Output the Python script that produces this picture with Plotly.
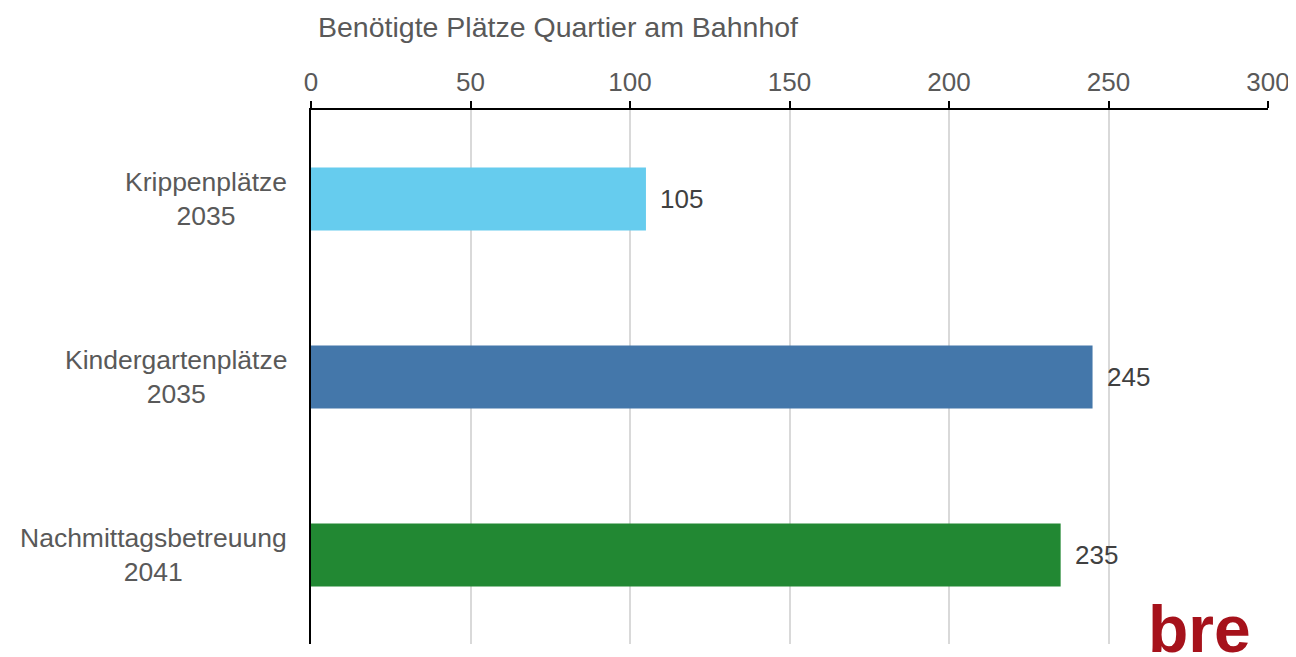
import plotly.graph_objects as go

categories = ["Krippenplätze<br>2035", "Kindergartenplätze<br>2035", "Nachmittagsbetreuung<br>2041"]
values = [105, 245, 235]
colors = ["#66CCEE", "#4477AA", "#228833"]
title_text = "Benötigte Plätze Quartier am Bahnhof"
x_ticks = [0, 50, 100, 150, 200, 250, 300]

FONT = "Liberation Sans, Arial, sans-serif"
GREY = "#595959"

fig = go.Figure()
fig.add_trace(go.Bar(
    y=categories, x=values, orientation="h",
    marker=dict(color=colors, line=dict(width=0)),
    width=0.355, showlegend=False, hoverinfo="x+y",
))

annotations = []
for c in categories:
    annotations.append(dict(
        x=0, xref="paper", y=c, yref="y", text=c, showarrow=False,
        xanchor="right", yanchor="middle", align="center", xshift=-22,
        font=dict(family=FONT, size=26.5, color=GREY),
    ))
for c, v in zip(categories, values):
    annotations.append(dict(
        x=v, xref="x", y=c, yref="y", text=str(v), showarrow=False,
        xanchor="left", yanchor="middle", xshift=12,
        font=dict(family=FONT, size=26, color="#404040"),
    ))
annotations.append(dict(
    x=0.928, xref="paper", y=0.028, yref="paper", text="<b>bre</b>",
    showarrow=False, xanchor="center", yanchor="middle",
    font=dict(family=FONT, size=66, color="#A6121B"),
))

fig.update_layout(
    width=1288, height=649,
    margin=dict(l=303, r=28, t=102, b=13),
    paper_bgcolor="white", plot_bgcolor="white",
    font=dict(family=FONT, color=GREY),
    title=dict(
        text=title_text, x=310/1288, xref="container", xanchor="left",
        y=1 - 19/649, yref="container", yanchor="middle",
        font=dict(family=FONT, size=28.5, color=GREY),
    ),
    xaxis=dict(
        side="top", range=[0, 300], tickvals=x_ticks, automargin=False,
        showline=True, linecolor="black", linewidth=1.5,
        ticks="outside", ticklen=7, tickcolor="black", tickwidth=1.5,
        showgrid=True, gridcolor="#D9D9D9", gridwidth=1.5,
        zeroline=False, tickfont=dict(family=FONT, size=26, color=GREY),
        fixedrange=True,
    ),
    yaxis=dict(
        autorange="reversed", showticklabels=False, automargin=False,
        showline=True, linecolor="black", linewidth=1.5,
        showgrid=False, ticks="", fixedrange=True,
    ),
    bargap=0.6,
    annotations=annotations,
)

fig.write_html("out.html")
